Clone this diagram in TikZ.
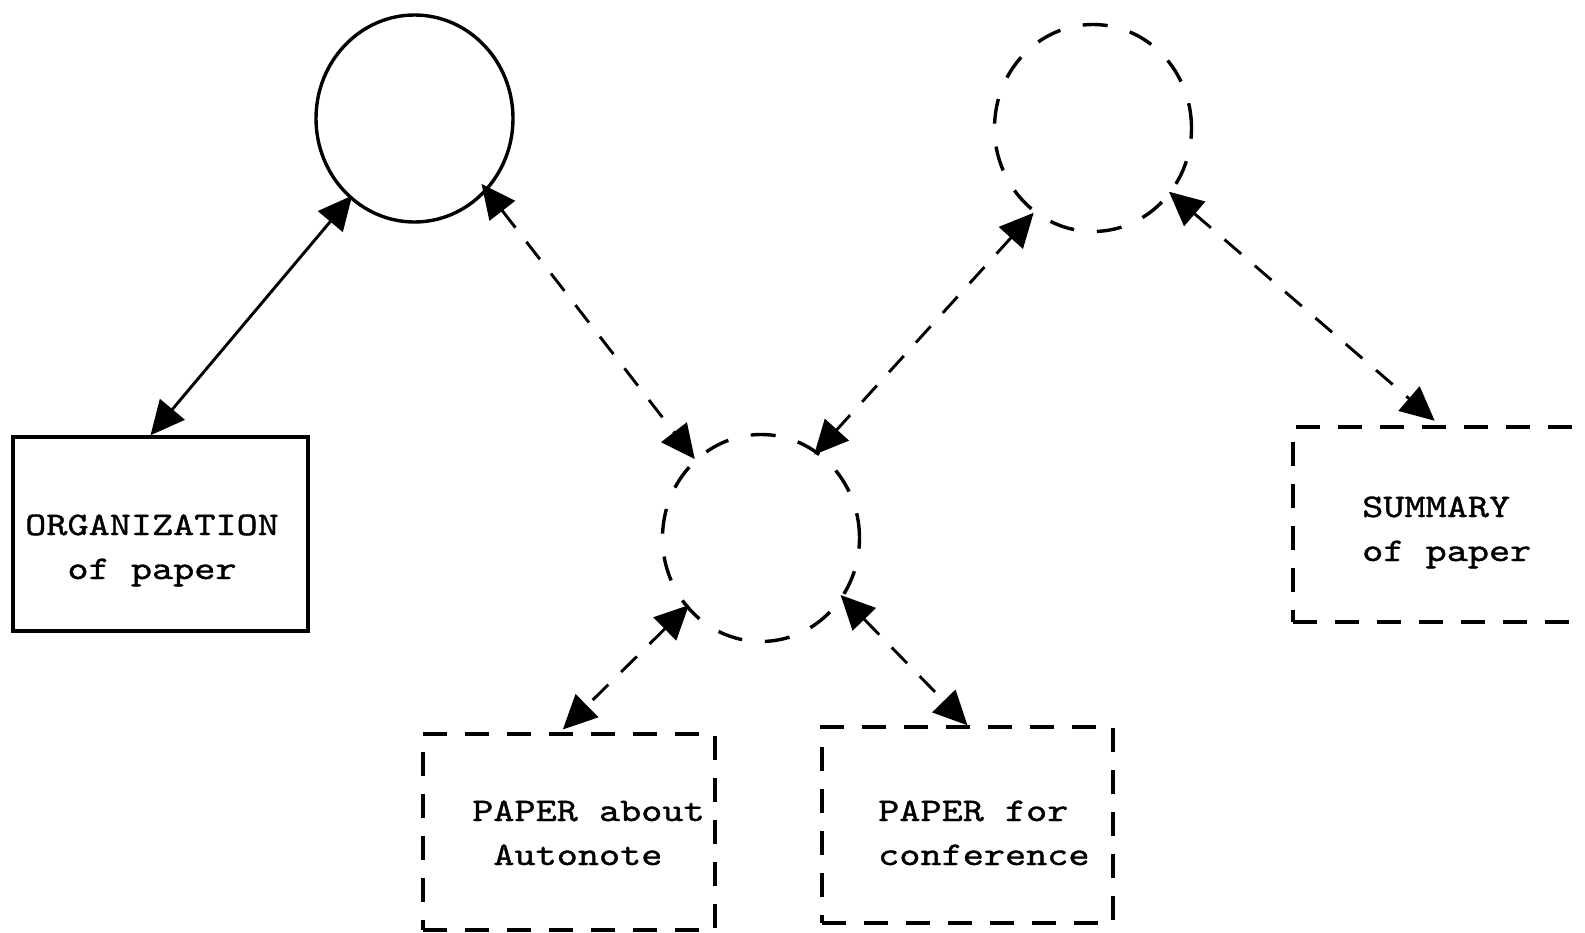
\documentclass[tikz,border=0pt]{standalone}
\usepackage{fontspec}
\newfontfamily\typew{lmmono10-regular.otf}[FakeStretch=1.22,FakeBold=1.1]
\usetikzlibrary{arrows.meta,shapes.geometric}
\begin{document}
\begin{tikzpicture}[x=1pt,y=-1pt,
  solidbox/.style={draw, line width=3.4pt, rectangle, inner sep=0pt},
  dashbox/.style={draw, line width=3.4pt, rectangle, inner sep=0pt, dash pattern=on 24pt off 18pt},
  solidring/.style={draw, line width=3.4pt, ellipse, inner sep=0pt, minimum width=197pt, minimum height=207pt},
  dashring/.style={solidring, dash pattern=on 25pt off 23pt},
  dbl/.style={line width=2.9pt, {Triangle[length=34pt,width=32pt]}-{Triangle[length=34pt,width=32pt]}},
  dbldash/.style={dbl, dash pattern=on 22pt off 18pt},
  txt/.style={font=\typew\fontsize{33}{44}\selectfont, inner sep=0pt}]
\useasboundingbox (0,0) rectangle (1585,932);
% circles
\node[solidring] (c1) at (414.5,118.5) {};
\node[dashring] (c2) at (1093,128) {};
\node[dashring] (c3) at (761,538) {};
% boxes
\node[solidbox, minimum width=295pt, minimum height=194pt] (org) at (160.5,534) {};
\node[dashbox, minimum width=294pt, minimum height=195pt] (sum) at (1440,524.5) {};
\node[dashbox, minimum width=292pt, minimum height=196pt] (pa) at (569,832) {};
\node[dashbox, minimum width=291pt, minimum height=196pt] (pf) at (967.5,825) {};
% texts (anchor = baseline of the last line)
\node[txt, anchor=base west, align=center] (torg) at (25,579) {ORGANIZATION\\of paper};
\node[txt, anchor=base west, align=left] (tsum) at (1362,561) {SUMMARY\\of paper};
\node[txt, anchor=base west, align=left] (tpa) at (472,865) {PAPER about\\\hphantom{P}Autonote};
\node[txt, anchor=base west, align=left] (tpf) at (878,865) {PAPER for\\conference};
% connectors
\draw[dbl, shorten <=-4pt] (c1.231) -- ([xshift=-10pt]org.north);
\draw[dbldash, shorten <=-9pt] (c1.315) -- (c3.130);
\draw[dbldash, shorten >=-5pt] (c2.235) -- (c3.57);
\draw[dbldash, shorten <=-3pt, shorten >=7pt] (c2.320) -- (sum.north);
\draw[dbldash, shorten <=-4pt, shorten >=4pt] (c3.223) -- ([xshift=-9pt]pa.north);
\draw[dbldash, shorten <=-4pt] (c3.324) -- (pf.north);
\end{tikzpicture}
\end{document}
